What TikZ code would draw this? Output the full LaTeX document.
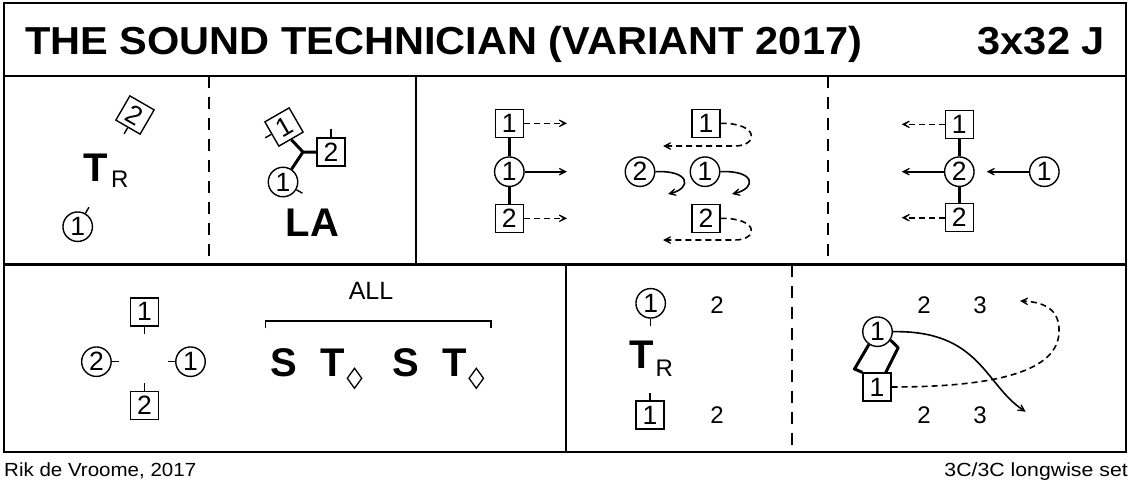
\documentclass[tikz,border=0pt]{standalone}
\usepackage{fontspec}
\setmainfont{Liberation Sans}
\usetikzlibrary{arrows.meta,calc}
\newcommand\tickout[3][7pt]{\draw[tick] (#2.#3) -- ($(#2.#3)!-#1!(#2.center)$);}
\begin{document}
\begin{tikzpicture}[x=1pt,y=-1pt,
  frame/.style={line width=2.2pt},
  sep/.style={line width=2pt, dash pattern=on 12pt off 9pt},
  dnc/.style={circle, draw, line width=1.4pt, minimum size=29.5pt, inner sep=0pt, font=\fontsize{26.5}{26.5}\selectfont},
  dsq/.style={rectangle, draw, line width=1.4pt, minimum size=28pt, inner sep=0pt, font=\fontsize{26.5}{26.5}\selectfont},
  num/.style={inner sep=0pt, font=\fontsize{24}{24}\selectfont},
  big/.style={inner sep=0pt, font=\fontsize{40}{40}\selectfont\bfseries},
  sub/.style={inner sep=0pt, font=\fontsize{24}{24}\selectfont},
  tick/.style={line width=1.4pt},
  hold/.style={line width=3pt},
  arr/.style={line width=1.6pt, -{Stealth[length=13pt,width=13pt,inset=9pt]}},
  darr/.style={arr, dash pattern=on 6pt off 4pt},
  dmd/.style={line width=1.3pt},
]
\useasboundingbox (0,0) rectangle (1133,490);
% frame
\draw[frame] (4,3) rectangle (1126,452);
\draw[frame] (4,76) -- (1126,76);
\draw[frame] (4,264.5) -- (1126,264.5);
\draw[frame] (415.7,76) -- (415.7,264.5);
\draw[sep] (209,76) -- (209,264.5);
\draw[sep] (828,76) -- (828,264.5);
\draw[frame] (565.7,264.5) -- (565.7,452);
\draw[sep] (791.5,264.5) -- (791.5,452);
% title and footer
\node[anchor=base west, inner sep=0pt, font=\fontsize{39}{39}\selectfont\bfseries] (title) at (25,54) {\scalebox{1.065}[1]{THE SOUND TECHNICIAN (VARIANT 2017)}};
\node[anchor=base east, inner sep=0pt, font=\fontsize{39}{39}\selectfont\bfseries] (form) at (1105,54) {\scalebox{1.065}[1]{3x32 J}};
\node[anchor=base west, inner sep=0pt, font=\fontsize{19}{19}\selectfont] (author) at (4,476) {\scalebox{1.08}[1]{Rik de Vroome, 2017}};
\node[anchor=base east, inner sep=0pt, font=\fontsize{19}{19}\selectfont] (set) at (1128,476) {\scalebox{1.12}[1]{3C/3C longwise set}};
% panel 1
\node[dsq, rotate=-30] (a2) at (135,115) {2};
\tickout{a2}{south}
\node[big, anchor=base] (a3) at (95.5,181) {T};
\node[sub, anchor=base west] (a4) at (111,187) {R};
\node[dnc] (a1) at (77.7,226.7) {1};
\tickout{a1}{60}
% panel 2
\node[dsq, rotate=30] (b1) at (284,127) {1};
\tickout{b1}{west}
\node[dsq] (b2) at (331,152) {2};
\tickout[8pt]{b2}{north}
\node[dnc] (b3) at (283,182) {1};
\tickout{b3}{-30}
\coordinate (bj) at (303,152);
\draw[hold] (b1.south) -- (bj) -- (b2.west);
\draw[hold] (bj) -- (b3);
\node[big, anchor=base] (la) at (312.5,236.7) {LA};
% panel 3 left
\node[dsq] (c1) at (509.3,123.3) {1};
\node[dnc] (c2) at (509.3,171.7) {1};
\node[dsq] (c3) at (509.3,218.3) {2};
\draw[hold] (c1) -- (c2) -- (c3);
\coordinate (c1e) at (567,123.3);
\coordinate (c2e) at (567,171.7);
\coordinate (c3e) at (567,218.3);
\draw[darr] (c1) -- (c1e);
\draw[arr] (c2) -- (c2e);
\draw[darr] (c3) -- (c3e);
% panel 3 right
\node[dsq] (d1) at (706,123.3) {1};
\node[dnc] (d2) at (640,171.7) {2};
\node[dnc] (d3) at (705,171.7) {1};
\node[dsq] (d4) at (706,218.3) {2};
\coordinate (d1e) at (663,146);
\coordinate (d4e) at (663,240);
\coordinate (d2e) at (668,194);
\coordinate (d3e) at (732,194);
\draw[darr] (d1.east) .. controls (760,123) and (758,146) .. (735,146) -- (d1e);
\draw[darr] (d4.east) .. controls (760,218) and (758,240) .. (735,240) -- (d4e);
\draw[arr] (d2.east) .. controls (690,170) and (692,188) .. (d2e);
\draw[arr] (d3.east) .. controls (755,170) and (757,188) .. (d3e);
% panel 4
\node[dsq] (e1) at (959.3,124.3) {1};
\node[dnc] (e2) at (959.3,171.7) {2};
\node[dsq] (e3) at (959.3,217.7) {2};
\node[dnc] (e4) at (1044.3,171.7) {1};
\draw[hold] (e1) -- (e2) -- (e3);
\coordinate (e1e) at (901.7,124.3);
\coordinate (e2e) at (901.7,171.7);
\coordinate (e3e) at (901.7,217.7);
\coordinate (e4e) at (986.7,171.7);
\draw[darr] (e1) -- (e1e);
\draw[arr] (e2) -- (e2e);
\draw[darr] (e3) -- (e3e);
\draw[arr] (e4) -- (e4e);
% bottom left
\node[dsq] (f1) at (144.4,311.8) {1};
\tickout[7.6pt]{f1}{south}
\node[dnc] (f2) at (96.4,361.7) {2};
\tickout{f2}{east}
\node[dnc] (f3) at (190.5,361.7) {1};
\tickout{f3}{west}
\node[dsq] (f4) at (144.4,405.5) {2};
\tickout[7.6pt]{f4}{north}
\node[inner sep=0pt, font=\fontsize{25}{25}\selectfont] (all) at (371,291) {ALL};
\draw[line width=1.5pt] (265.5,328.3) -- (265.5,321) -- (491,321) -- (491,328.3);
\node[big, anchor=base] (s1) at (283.6,376.7) {S};
\node[big, anchor=base] (t1) at (332.7,376.7) {T};
\node[big, anchor=base] (s2) at (405.5,376.7) {S};
\node[big, anchor=base] (t2) at (454.5,376.7) {T};
\coordinate (dm1) at (354.5,378.3);
\coordinate (dm2) at (476.3,378.3);
\draw[dmd] ($(dm1)+(0,-10)$) -- ($(dm1)+(7.2,0)$) -- ($(dm1)+(0,10)$) -- ($(dm1)+(-7.2,0)$) -- cycle;
\draw[dmd] ($(dm2)+(0,-10)$) -- ($(dm2)+(7.2,0)$) -- ($(dm2)+(0,10)$) -- ($(dm2)+(-7.2,0)$) -- cycle;
% bottom middle
\node[dnc] (g1) at (650.7,303.3) {1};
\tickout[7.6pt]{g1}{south}
\node[num] (g2) at (717,305) {2};
\node[big, anchor=base] (g5) at (641.5,368.3) {T};
\node[sub, anchor=base west] (g6) at (655.5,376) {R};
\node[dsq] (g3) at (650,415) {1};
\tickout[7.6pt]{g3}{north}
\node[num] (g4) at (717,415.5) {2};
% bottom right
\node[num] (k1) at (924,305) {2};
\node[num] (k2) at (980,305) {3};
\node[num] (k3) at (924,415.5) {2};
\node[num] (k4) at (980,415.5) {3};
\node[dnc] (h1) at (877.5,331.7) {1};
\node[dsq] (h2) at (877,387) {1};
\coordinate (hl) at (854.5,369);
\coordinate (hr) at (898.2,347.7);
\draw[hold, line join=round] (h1.-124) -- (hl) -- (h2.north west);
\draw[hold, line join=round] (h1.-33) -- (hr) -- ($(h2.north west)!0.8!(h2.north east)$);
\coordinate (h1e) at (1025.7,411.7);
\coordinate (h2e) at (1020,301);
\draw[arr] (h1.east) .. controls (980,330) and (985,385) .. (h1e);
\draw[darr] (h2.east) .. controls (1000,387) and (1058,370) .. (1059,332) .. controls (1060,310) and (1045,302) .. (h2e);
\end{tikzpicture}
\end{document}
